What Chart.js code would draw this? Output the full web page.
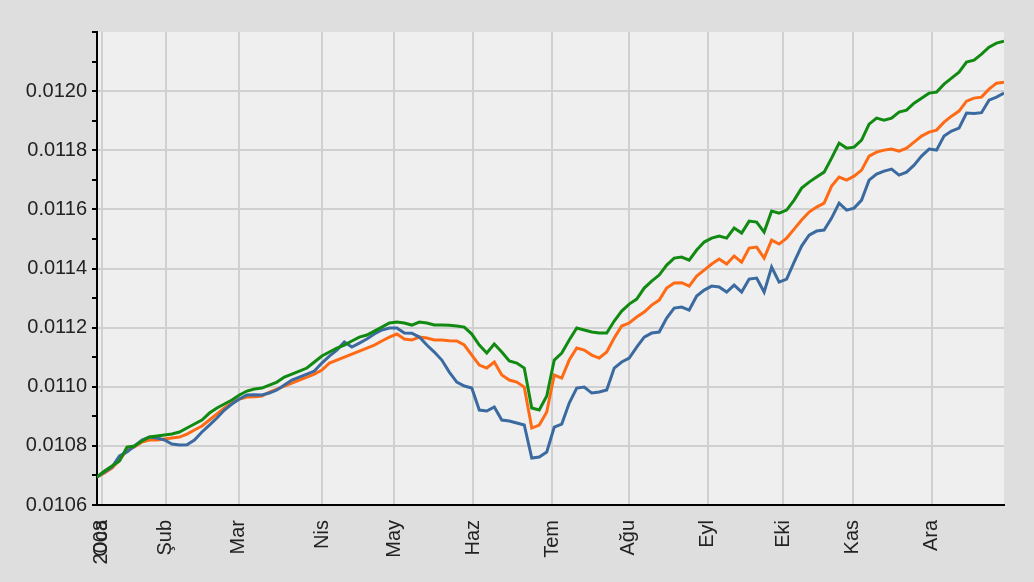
<!DOCTYPE html>
<html>
<head>
<meta charset="utf-8">
<script src="https://cdn.jsdelivr.net/npm/chart.js@4/dist/chart.umd.min.js"></script>
<style>
  html, body { margin: 0; padding: 0; background: #dedede; }
  #grafico { display: block; }
</style>
</head>
<body>
<canvas id="grafico" width="1034" height="582"></canvas>
<script>
// month labels (first tick: year label overlapping "Oca", as in the original)
const monthLabels = ['2008', 'Oca', 'Şub', 'Mar', 'Nis', 'May', 'Haz', 'Tem', 'Ağu', 'Eyl', 'Eki', 'Kas', 'Ara'];
// where each month starts, in sample units
const monthTicks = [0.63, 0.63, 9.2, 18.94, 30.02, 39.62, 50.16, 60.70, 70.93, 81.47, 91.52, 100.81, 111.35];

const greenSerie = [
  0.0106947, 0.0107150, 0.0107319, 0.0107488, 0.0107961, 0.0107995, 0.0108164, 0.0108299, 0.0108333, 0.0108367,
  0.0108401, 0.0108469, 0.0108604, 0.0108739, 0.0108874, 0.0109111, 0.0109280, 0.0109415, 0.0109551, 0.0109720,
  0.0109855, 0.0109923, 0.0109956, 0.0110058, 0.0110159, 0.0110328, 0.0110430, 0.0110531, 0.0110633, 0.0110836,
  0.0111039, 0.0111174, 0.0111309, 0.0111411, 0.0111546, 0.0111681, 0.0111749, 0.0111884, 0.0112019, 0.0112155,
  0.0112188, 0.0112155, 0.0112087, 0.0112188, 0.0112155, 0.0112087, 0.0112087, 0.0112080, 0.0112053, 0.0112019,
  0.0111783, 0.0111411, 0.0111140, 0.0111444, 0.0111174, 0.0110870, 0.0110802, 0.0110633, 0.0109280, 0.0109213,
  0.0109686, 0.0110903, 0.0111140, 0.0111580, 0.0111985, 0.0111918, 0.0111850, 0.0111816, 0.0111820, 0.0112222,
  0.0112560, 0.0112797, 0.0112966, 0.0113338, 0.0113575, 0.0113778, 0.0114116, 0.0114353, 0.0114386, 0.0114285,
  0.0114623, 0.0114894, 0.0115029, 0.0115097, 0.0115029, 0.0115367, 0.0115198, 0.0115604, 0.0115570, 0.0115232,
  0.0115942, 0.0115874, 0.0115976, 0.0116314, 0.0116720, 0.0116923, 0.0117092, 0.0117261, 0.0117734, 0.0118241,
  0.0118072, 0.0118106, 0.0118343, 0.0118884, 0.0119087, 0.0119019, 0.0119087, 0.0119290, 0.0119357, 0.0119594,
  0.0119763, 0.0119932, 0.0119966, 0.0120237, 0.0120439, 0.0120642, 0.0120981, 0.0121048, 0.0121251, 0.0121488,
  0.0121623, 0.0121691
];

const blueSerie = [
  0.0106947, 0.0107116, 0.0107285, 0.0107657, 0.0107792, 0.0107995, 0.0108198, 0.0108299, 0.0108266, 0.0108198,
  0.0108063, 0.0108029, 0.0108040, 0.0108198, 0.0108469, 0.0108705, 0.0108942, 0.0109213, 0.0109415, 0.0109584,
  0.0109720, 0.0109730, 0.0109720, 0.0109787, 0.0109889, 0.0110058, 0.0110227, 0.0110328, 0.0110430, 0.0110531,
  0.0110802, 0.0111039, 0.0111241, 0.0111512, 0.0111343, 0.0111478, 0.0111613, 0.0111783, 0.0111918, 0.0111985,
  0.0111990, 0.0111816, 0.0111810, 0.0111681, 0.0111411, 0.0111174, 0.0110903, 0.0110498, 0.0110159, 0.0110024,
  0.0109956, 0.0109213, 0.0109179, 0.0109314, 0.0108874, 0.0108841, 0.0108773, 0.0108705, 0.0107589, 0.0107623,
  0.0107792, 0.0108638, 0.0108739, 0.0109449, 0.0109956, 0.0109990, 0.0109787, 0.0109821, 0.0109889, 0.0110633,
  0.0110836, 0.0110971, 0.0111343, 0.0111681, 0.0111816, 0.0111850, 0.0112324, 0.0112662, 0.0112696, 0.0112594,
  0.0113068, 0.0113270, 0.0113406, 0.0113372, 0.0113203, 0.0113440, 0.0113203, 0.0113642, 0.0113676, 0.0113203,
  0.0114048, 0.0113541, 0.0113642, 0.0114217, 0.0114758, 0.0115130, 0.0115266, 0.0115299, 0.0115705, 0.0116212,
  0.0115976, 0.0116043, 0.0116314, 0.0116990, 0.0117193, 0.0117295, 0.0117362, 0.0117159, 0.0117261, 0.0117497,
  0.0117802, 0.0118038, 0.0118005, 0.0118478, 0.0118647, 0.0118749, 0.0119256, 0.0119240, 0.0119270, 0.0119695,
  0.0119797, 0.0119932
];

const orangeSerie = [
  0.0106947, 0.0107082, 0.0107251, 0.0107522, 0.0107860, 0.0107961, 0.0108130, 0.0108198, 0.0108198, 0.0108232,
  0.0108266, 0.0108299, 0.0108401, 0.0108536, 0.0108671, 0.0108874, 0.0109077, 0.0109280, 0.0109449, 0.0109584,
  0.0109652, 0.0109660, 0.0109686, 0.0109821, 0.0109923, 0.0110024, 0.0110126, 0.0110227, 0.0110328, 0.0110430,
  0.0110565, 0.0110802, 0.0110903, 0.0111005, 0.0111106, 0.0111208, 0.0111309, 0.0111411, 0.0111546, 0.0111681,
  0.0111783, 0.0111613, 0.0111580, 0.0111681, 0.0111647, 0.0111580, 0.0111580, 0.0111560, 0.0111546, 0.0111411,
  0.0111072, 0.0110734, 0.0110633, 0.0110836, 0.0110396, 0.0110227, 0.0110159, 0.0109990, 0.0108604, 0.0108705,
  0.0109145, 0.0110396, 0.0110295, 0.0110903, 0.0111309, 0.0111241, 0.0111072, 0.0110971, 0.0111174, 0.0111647,
  0.0112053, 0.0112155, 0.0112357, 0.0112526, 0.0112763, 0.0112932, 0.0113338, 0.0113507, 0.0113520, 0.0113406,
  0.0113744, 0.0113947, 0.0114150, 0.0114319, 0.0114150, 0.0114420, 0.0114217, 0.0114691, 0.0114725, 0.0114353,
  0.0114961, 0.0114826, 0.0115029, 0.0115333, 0.0115638, 0.0115908, 0.0116077, 0.0116212, 0.0116787, 0.0117092,
  0.0116990, 0.0117125, 0.0117328, 0.0117802, 0.0117937, 0.0118005, 0.0118038, 0.0117971, 0.0118072, 0.0118275,
  0.0118478, 0.0118613, 0.0118681, 0.0118952, 0.0119154, 0.0119324, 0.0119662, 0.0119763, 0.0119797, 0.0120067,
  0.0120270, 0.0120304
];

const ctx = document.getElementById('grafico').getContext('2d');

const toPoints = serie => serie.map((v, i) => ({ x: i, y: v }));

/* paint the grey frame and the lighter plot area */
const fondo = {
  id: 'fondo',
  beforeDraw(chart) {
    const { ctx, chartArea: a } = chart;
    ctx.save();
    ctx.fillStyle = '#dedede';
    ctx.fillRect(0, 0, chart.width, chart.height);
    ctx.fillStyle = '#efefef';
    ctx.fillRect(a.left, a.top, a.right - a.left, a.bottom - a.top);
    ctx.restore();
  }
};

const fuente = { family: "'Liberation Sans', Arial, sans-serif", size: 20 };

new Chart(ctx, {
  type: 'line',
  data: {
    datasets: [
      { data: toPoints(greenSerie), borderColor: '#118a11', borderWidth: 3, pointRadius: 0, tension: 0 },
      { data: toPoints(blueSerie), borderColor: '#3b6aa0', borderWidth: 3, pointRadius: 0, tension: 0 },
      { data: toPoints(orangeSerie), borderColor: '#ff6a14', borderWidth: 3, pointRadius: 0, tension: 0 }
    ]
  },
  options: {
    responsive: false,
    animation: false,
    layout: { padding: { left: 0, right: 30, top: 32, bottom: 0 } },
    plugins: { legend: { display: false }, tooltip: { enabled: false } },
    scales: {
      x: {
        type: 'linear',
        min: 0,
        max: 121,
        afterBuildTicks: axis => { axis.ticks = monthTicks.map(v => ({ value: v })); },
        afterFit: axis => { axis.height = 77; axis.paddingLeft = 0; axis.paddingRight = 0; },
        border: { color: '#000', width: 2 },
        grid: { color: '#d0d0d0', lineWidth: 2, drawTicks: false },
        ticks: {
          autoSkip: false,
          minRotation: 90,
          maxRotation: 90,
          padding: 15,
          color: '#222',
          font: fuente,
          callback: (value, index) => monthLabels[index]
        }
      },
      y: {
        min: 0.0106,
        max: 0.0122,
        afterFit: axis => { axis.width = 97; },
        border: { color: '#000', width: 2 },
        grid: {
          color: c => (c.index % 2 === 0 && c.index > 0 && c.index < 16) ? '#d0d0d0' : 'rgba(0,0,0,0)',
          lineWidth: 2,
          tickColor: '#000',
          tickLength: 5,
          tickWidth: 2
        },
        ticks: {
          stepSize: 0.0001,
          padding: 5,
          color: '#222',
          font: fuente,
          callback: (value, index) => (index % 2 === 0 && index < 16) ? value.toFixed(4) : ''
        }
      }
    }
  },
  plugins: [fondo]
});
</script>
</body>
</html>
